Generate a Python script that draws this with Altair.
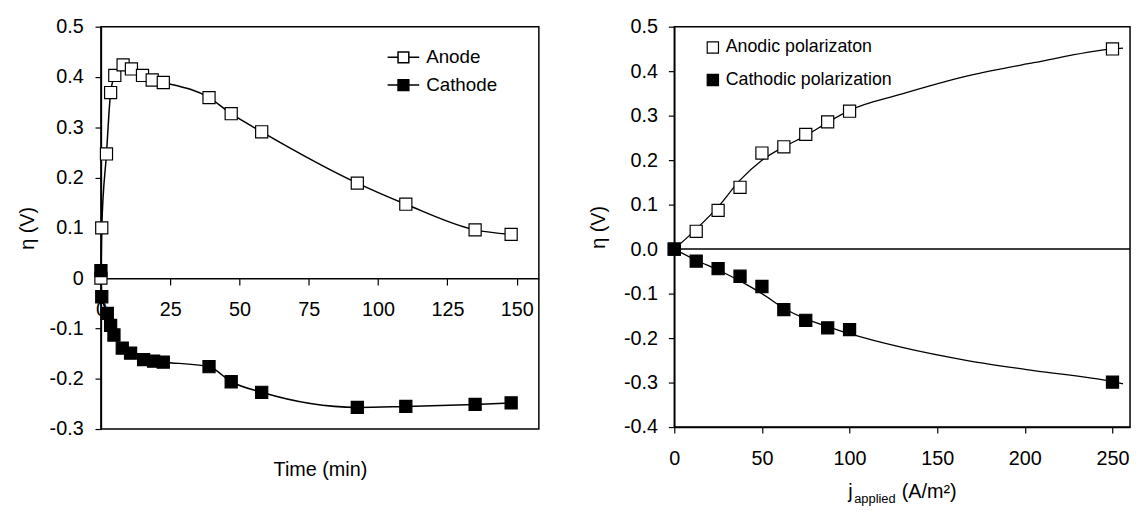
import altair as alt
import pandas as pd

FONT = "Liberation Sans"

# ---------------- Left panel data (Time, overpotential) ----------------
anode_t = [0, 0.3, 2, 3.5, 5, 8, 11, 15, 18.5, 22.5, 39, 47, 58, 92.5, 110, 135, 148]
anode_eta = [0.0, 0.10, 0.247, 0.369, 0.403, 0.424, 0.416, 0.403, 0.394, 0.389,
             0.359, 0.327, 0.291, 0.189, 0.147, 0.096, 0.087]
cathode_t = [0, 0.3, 2.3, 3.5, 4.7, 7.7, 10.7, 15.4, 19, 22.5, 39, 47, 58, 92.5, 110, 135, 148]
cathode_eta = [0.015, -0.037, -0.070, -0.094, -0.113, -0.139, -0.149, -0.162, -0.165,
               -0.167, -0.176, -0.206, -0.227, -0.257, -0.255, -0.251, -0.248]
left_series = ["Anode", "Cathode"]

# ---------------- Right panel data (j applied, overpotential) ----------------
j_points = [0, 12.5, 25, 37.5, 50, 62.5, 75, 87.5, 100, 250]
anodic_eta = [0.0, 0.040, 0.087, 0.139, 0.216, 0.230, 0.258, 0.286, 0.310, 0.450]
cathodic_eta = [0.0, -0.027, -0.044, -0.061, -0.084, -0.136, -0.160, -0.177, -0.181, -0.299]
right_series = ["Anodic polarizaton", "Cathodic polarization"]

# fitted trend curves
anodic_fit_j = [0, 12.5, 25, 37.5, 50, 62.5, 75, 87.5, 100, 130, 168, 205, 250, 256]
anodic_fit_eta = [0.0, 0.045, 0.095, 0.155, 0.200, 0.230, 0.255, 0.285, 0.312, 0.349,
                  0.390, 0.419, 0.450, 0.452]
cathodic_fit_j = [0, 12.5, 25, 40, 50, 62.5, 75, 87.5, 100, 130, 168, 205, 250, 256]
cathodic_fit_eta = [0.0, -0.025, -0.047, -0.077, -0.100, -0.133, -0.157, -0.174, -0.190,
                    -0.221, -0.251, -0.273, -0.298, -0.303]

left_df = pd.DataFrame({
    "series": [left_series[0]] * len(anode_t) + [left_series[1]] * len(cathode_t),
    "t": anode_t + cathode_t,
    "eta": anode_eta + cathode_eta,
})
right_df = pd.DataFrame({
    "series": [right_series[0]] * len(j_points) + [right_series[1]] * len(j_points),
    "j": j_points + j_points,
    "eta": anodic_eta + cathodic_eta,
})
fit_df = pd.DataFrame({
    "series": ["a"] * len(anodic_fit_j) + ["c"] * len(cathodic_fit_j),
    "j": anodic_fit_j + cathodic_fit_j,
    "eta": anodic_fit_eta + cathodic_fit_eta,
})

LW, LH = 443, 407
RW, RH = 461, 405

neg_fmt = "(datum.value < -0.00001 ? '-' : '') + format(abs(datum.value), '.1f')"
left_y_fmt = "abs(datum.value) < 0.00001 ? '0' : " + neg_fmt

y0_from_top = 0.5 / 0.8 * LH
x_offset = -(LH - y0_from_top)

line_path = "M-1,0H-0.34M-0.34,-0.34H0.34V0.34H-0.34ZM0.34,0H1"

left_x = alt.X("t:Q", scale=alt.Scale(domain=[0, 158], nice=False, zero=False),
               axis=alt.Axis(values=[0, 25, 50, 75, 100, 125, 150], offset=x_offset,
                             tickSize=7, labelPadding=15, labelFlush=False,
                             title="Time (min)", titleY=194, titleBaseline="middle"))
left_y = alt.Y("eta:Q", scale=alt.Scale(domain=[-0.3, 0.5], nice=False, zero=False),
               axis=alt.Axis(values=[-0.3, -0.2, -0.1, 0, 0.1, 0.2, 0.3, 0.4, 0.5],
                             labelExpr=left_y_fmt, tickSize=6, labelPadding=12,
                             title="η (V)", titlePadding=12))

left_lines = alt.Chart(left_df).mark_line(
    color="black", strokeWidth=1.5, interpolate="monotone"
).encode(x=left_x, y=left_y, detail="series:N")

left_points = alt.Chart(left_df).mark_point(
    shape="square", size=150, filled=True, stroke="black", strokeWidth=1.2, opacity=1
).encode(
    x=left_x, y=left_y,
    fill=alt.Fill("series:N",
                  scale=alt.Scale(domain=left_series, range=["white", "black"]),
                  legend=alt.Legend(title=None, orient="none", legendX=289, legendY=14,
                                    symbolType=line_path, symbolSize=1024,
                                    symbolStrokeColor="black", symbolStrokeWidth=1.5,
                                    labelFont=FONT, labelFontSize=19, labelColor="black",
                                    labelOffset=6, rowPadding=1, padding=0, labelLimit=300)),
)

left = alt.layer(left_lines, left_points).properties(width=LW, height=LH)

# ---------------- Right panel ----------------
right_x = alt.X("j:Q", scale=alt.Scale(domain=[0, 260], nice=False, zero=False),
                axis=alt.Axis(values=[0, 50, 100, 150, 200, 250], tickSize=6,
                              labelPadding=16, labelFlush=False, title=None))
right_y = alt.Y("eta:Q", scale=alt.Scale(domain=[-0.4, 0.5], nice=False, zero=False),
                axis=alt.Axis(values=[-0.4, -0.3, -0.2, -0.1, 0, 0.1, 0.2, 0.3, 0.4, 0.5],
                              labelExpr=neg_fmt, tickSize=6, labelPadding=11,
                              title="η (V)", titlePadding=15))

fit_lines = alt.Chart(fit_df).mark_line(
    color="black", strokeWidth=1.3, interpolate="monotone"
).encode(x=right_x, y=right_y, detail="series:N")

right_points = alt.Chart(right_df).mark_point(
    shape="square", size=150, filled=True, stroke="black", strokeWidth=1.2, opacity=1
).encode(
    x=right_x, y=right_y,
    fill=alt.Fill("series:N",
                  scale=alt.Scale(domain=right_series, range=["white", "black"]),
                  legend=alt.Legend(title=None, orient="none", legendX=30, legendY=12,
                                    symbolType="square", symbolSize=130,
                                    symbolStrokeColor="black", symbolStrokeWidth=1.2,
                                    labelFont=FONT, labelFontSize=18, labelColor="black",
                                    labelOffset=4, rowPadding=15, padding=0, labelLimit=300)),
)

zero_rule = alt.Chart(pd.DataFrame({"z": [0]})).mark_rule(
    color="black", strokeWidth=1.5
).encode(y=alt.datum(0))

one = pd.DataFrame({"a": [0]})
t_j = alt.Chart(one).mark_text(text="j", font=FONT, fontSize=20, align="left",
                               baseline="alphabetic", color="black"
                               ).encode(x=alt.value(176), y=alt.value(477))
t_app = alt.Chart(one).mark_text(text="applied", font=FONT, fontSize=13, align="left",
                                 baseline="alphabetic", color="black"
                                 ).encode(x=alt.value(182), y=alt.value(482))
t_unit = alt.Chart(one).mark_text(text="(A/m²)", font=FONT, fontSize=20, align="left",
                                  baseline="alphabetic", color="black"
                                  ).encode(x=alt.value(230), y=alt.value(477))

right = alt.layer(fit_lines, right_points, zero_rule, t_j, t_app, t_unit).properties(
    width=RW, height=RH)

chart = alt.hconcat(left, right, spacing=48).resolve_scale(
    fill="independent", x="independent", y="independent"
).resolve_legend(fill="independent").properties(
    padding={"top": 5, "left": 8, "right": 0, "bottom": 0},
    background="white",
).configure_view(
    stroke="black", strokeWidth=1.5
).configure_axis(
    grid=False, domainColor="black", domainWidth=1.5, tickColor="black", tickWidth=1.2,
    labelFont=FONT, labelFontSize=20, labelColor="black",
    titleFont=FONT, titleFontSize=20, titleFontWeight="normal", titleColor="black",
)

chart.save("out.html", embed_options={"renderer": "svg", "actions": False})
